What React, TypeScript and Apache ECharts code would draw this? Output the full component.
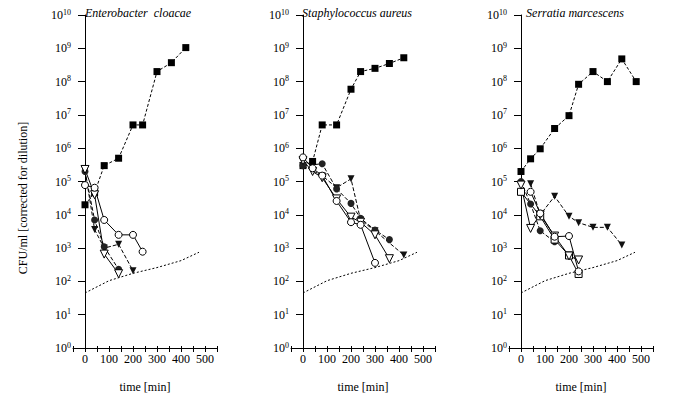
import React, { useEffect, useRef } from 'react';
import * as echarts from 'echarts';

const FONT = 'Liberation Serif';

const panelTitles = ['Enterobacter  cloacae', 'Staphylococcus aureus', 'Serratia marcescens'];
const xTickLabels = [0, 100, 200, 300, 400, 500];
const yAxisTitle = 'CFU/ml [corrected for dilution]';
const xAxisTitle = 'time [min]';

// Panel 1: Enterobacter cloacae  [time (min), CFU/ml]
const ecControl = [[0, 2e4], [40, 4.6e4], [80, 3e5], [140, 5e5], [200, 5e6], [240, 5e6], [300, 2e8], [360, 3.7e8], [420, 1.05e9]];
const ecOpenCircle = [[0, 7.8e4], [40, 6.5e4], [80, 7e3], [140, 2.5e3], [200, 2.5e3], [240, 780]];
const ecOpenTriangle = [[0, 2.3e5], [40, 4e4], [80, 660], [140, 170]];
const ecFilledCircle = [[0, 2e5], [40, 7e3], [80, 1.1e3], [140, 230]];
const ecFilledTriangle = [[0, 2.2e5], [40, 3.6e3], [80, 1e3], [140, 1.3e3], [200, 210]];

// Panel 2: Staphylococcus aureus
const saControl = [[0, 3e5], [40, 4e5], [80, 5e6], [140, 5e6], [200, 5.9e7], [240, 2e8], [300, 2.5e8], [360, 3.5e8], [420, 5.2e8]];
const saOpenCircle = [[0, 5.3e5], [40, 2.5e5], [80, 1.5e5], [140, 2.6e4], [200, 6e3], [240, 5e3], [300, 360]];
const saOpenTriangle = [[0, 4.2e5], [40, 2e5], [80, 1.3e5], [140, 3e4], [200, 8.5e3], [240, 6e3], [300, 2.5e3], [360, 480]];
const saFilledCircle = [[0, 3e5], [80, 3.4e5], [140, 6e4], [200, 2.2e4], [240, 7.8e3], [300, 3.5e3], [360, 1.8e3]];
const saFilledTriangle = [[0, 3e5], [80, 1.5e5], [140, 6.5e4], [200, 1.2e5], [240, 7e3], [300, 3.3e3], [420, 620]];

// Panel 3: Serratia marcescens
const smControl = [[0, 2e5], [40, 4.8e5], [80, 9.6e5], [140, 3.9e6], [200, 9.5e6], [240, 8.3e7], [300, 2e8], [360, 1e8], [420, 4.8e8], [480, 1e8]];
const smOpenCircle = [[40, 4.9e4], [80, 1.1e4], [140, 2.2e3], [200, 2.3e3], [240, 200]];
const smOpenSquare = [[0, 4.9e4], [80, 9e3], [140, 1.8e3], [200, 600], [240, 167]];
const smOpenTriangle = [[0, 7.8e4], [40, 3.9e3], [80, 1e4], [140, 2.3e3], [200, 580], [240, 440]];
const smFilledCircle = [[0, 1e5], [40, 2.1e4], [80, 3.3e3], [140, 1.55e3]];
const smFilledTriangle = [[40, 8.5e4], [80, 1e4], [140, 3.6e4], [200, 9e3], [240, 5.8e3], [300, 4.2e3], [360, 4.2e3], [420, 1.24e3]];

// Detection limit (same in all panels)
const detectionLimit = [[0, 45], [100, 105], [200, 175], [300, 260], [400, 420], [475, 750]];

const panels = [
  { control: ecControl, openCircle: ecOpenCircle, openTriangle: ecOpenTriangle, openSquare: null as any, filledCircle: ecFilledCircle, filledTriangle: ecFilledTriangle },
  { control: saControl, openCircle: saOpenCircle, openTriangle: saOpenTriangle, openSquare: null as any, filledCircle: saFilledCircle, filledTriangle: saFilledTriangle },
  { control: smControl, openCircle: smOpenCircle, openTriangle: smOpenTriangle, openSquare: smOpenSquare, filledCircle: smFilledCircle, filledTriangle: smFilledTriangle },
];

const gridLefts = [73, 291, 509];
const titleCenters = [138, 357, 575];

export default function App() {
  const ref = useRef<HTMLDivElement>(null);
  useEffect(() => {
    if (!ref.current) return;
    const chart = echarts.init(ref.current, null, { renderer: 'svg' });
    const grid: any[] = [];
    const xAxis: any[] = [];
    const yAxis: any[] = [];
    const series: any[] = [];
    const graphic: any[] = [];

    panels.forEach((p, i) => {
      grid.push({ left: gridLefts[i], top: 15, width: 144, height: 333 });
      xAxis.push({
        type: 'value', gridIndex: i, min: -50, max: 550, interval: 50,
        axisLine: { lineStyle: { color: '#000', width: 1 } },
        axisTick: { length: 4, lineStyle: { color: '#000', width: 1 } },
        axisLabel: {
          color: '#000', fontFamily: FONT, fontSize: 12, margin: 5,
          formatter: (v: number) => (xTickLabels.includes(v) ? String(v) : ''),
        },
        splitLine: { show: false },
        name: xAxisTitle, nameLocation: 'middle', nameGap: 33,
        nameTextStyle: { color: '#000', fontFamily: FONT, fontSize: 12 },
      });
      xAxis.push({
        type: 'value', gridIndex: i, min: -50, max: 550, interval: 50, position: 'bottom',
        axisLine: { show: false },
        axisTick: { inside: true, length: 2, lineStyle: { color: '#000', width: 1 } },
        axisLabel: { show: false },
        splitLine: { show: false },
      });
      yAxis.push({
        type: 'log', logBase: 10, gridIndex: i, min: 1, max: 1e10, interval: 1, splitNumber: 10,
        axisLine: { show: true, lineStyle: { color: '#000', width: 1 } },
        axisTick: { show: true, length: 7, lineStyle: { color: '#000', width: 1 } },
        axisLabel: {
          color: '#000', fontFamily: FONT, fontSize: 12, margin: 2,
          formatter: (v: number) => '{b|10}{s|' + Math.round(Math.log10(v)) + '}',
          rich: {
            b: { fontSize: 12, fontFamily: FONT, color: '#000' },
            s: { fontSize: 8, fontFamily: FONT, color: '#000', verticalAlign: 'top', padding: [0, 0, 6, 0] },
          },
        },
        splitLine: { show: false },
      });
      const xi = 2 * i;
      const base = { type: 'line', xAxisIndex: xi, yAxisIndex: i, animation: false };
      series.push({
        ...base, data: detectionLimit, showSymbol: false, symbol: 'none',
        lineStyle: { color: '#000', width: 1, type: [2, 2] },
      });
      series.push({
        ...base, data: p.control, symbol: 'rect', symbolSize: 7,
        itemStyle: { color: '#000' }, lineStyle: { color: '#000', width: 1, type: [3, 2] },
      });
      series.push({
        ...base, data: p.filledTriangle, symbol: 'triangle', symbolRotate: 180, symbolSize: 7,
        itemStyle: { color: '#111' }, lineStyle: { color: '#000', width: 1, type: [4, 2] },
      });
      series.push({
        ...base, data: p.filledCircle, symbol: 'circle', symbolSize: 7,
        itemStyle: { color: '#222' }, lineStyle: { color: '#000', width: 1, type: [4, 2] },
      });
      if (p.openSquare) {
        series.push({
          ...base, data: p.openSquare, symbol: 'rect', symbolSize: 7,
          itemStyle: { color: '#fff', borderColor: '#000', borderWidth: 1 }, lineStyle: { color: '#000', width: 1 },
        });
      }
      series.push({
        ...base, data: p.openTriangle, symbol: 'triangle', symbolRotate: 180, symbolSize: 8,
        itemStyle: { color: '#fff', borderColor: '#000', borderWidth: 1 }, lineStyle: { color: '#000', width: 1 },
      });
      series.push({
        ...base, data: p.openCircle, symbol: 'circle', symbolSize: 7,
        itemStyle: { color: '#fff', borderColor: '#000', borderWidth: 1 }, lineStyle: { color: '#000', width: 1 },
      });
      graphic.push({
        type: 'text', x: titleCenters[i], y: 13,
        style: {
          text: panelTitles[i], textAlign: 'center', textVerticalAlign: 'middle', align: 'center', verticalAlign: 'middle',
          fontFamily: FONT, fontSize: 12, fontStyle: 'italic', fill: '#000',
        },
      });
    });
    graphic.push({
      type: 'text', x: 23, y: 198, rotation: Math.PI / 2,
      style: {
        text: yAxisTitle, textAlign: 'center', textVerticalAlign: 'middle', align: 'center', verticalAlign: 'middle',
        fontFamily: FONT, fontSize: 12, fill: '#000',
      },
    });

    chart.setOption({
      animation: false,
      backgroundColor: '#fff',
      textStyle: { fontFamily: FONT },
      grid, xAxis, yAxis, series, graphic,
    });
    return () => chart.dispose();
  }, []);
  return <div ref={ref} style={{ position: 'absolute', left: 0, top: 0, width: 679, height: 399 }} />;
}
